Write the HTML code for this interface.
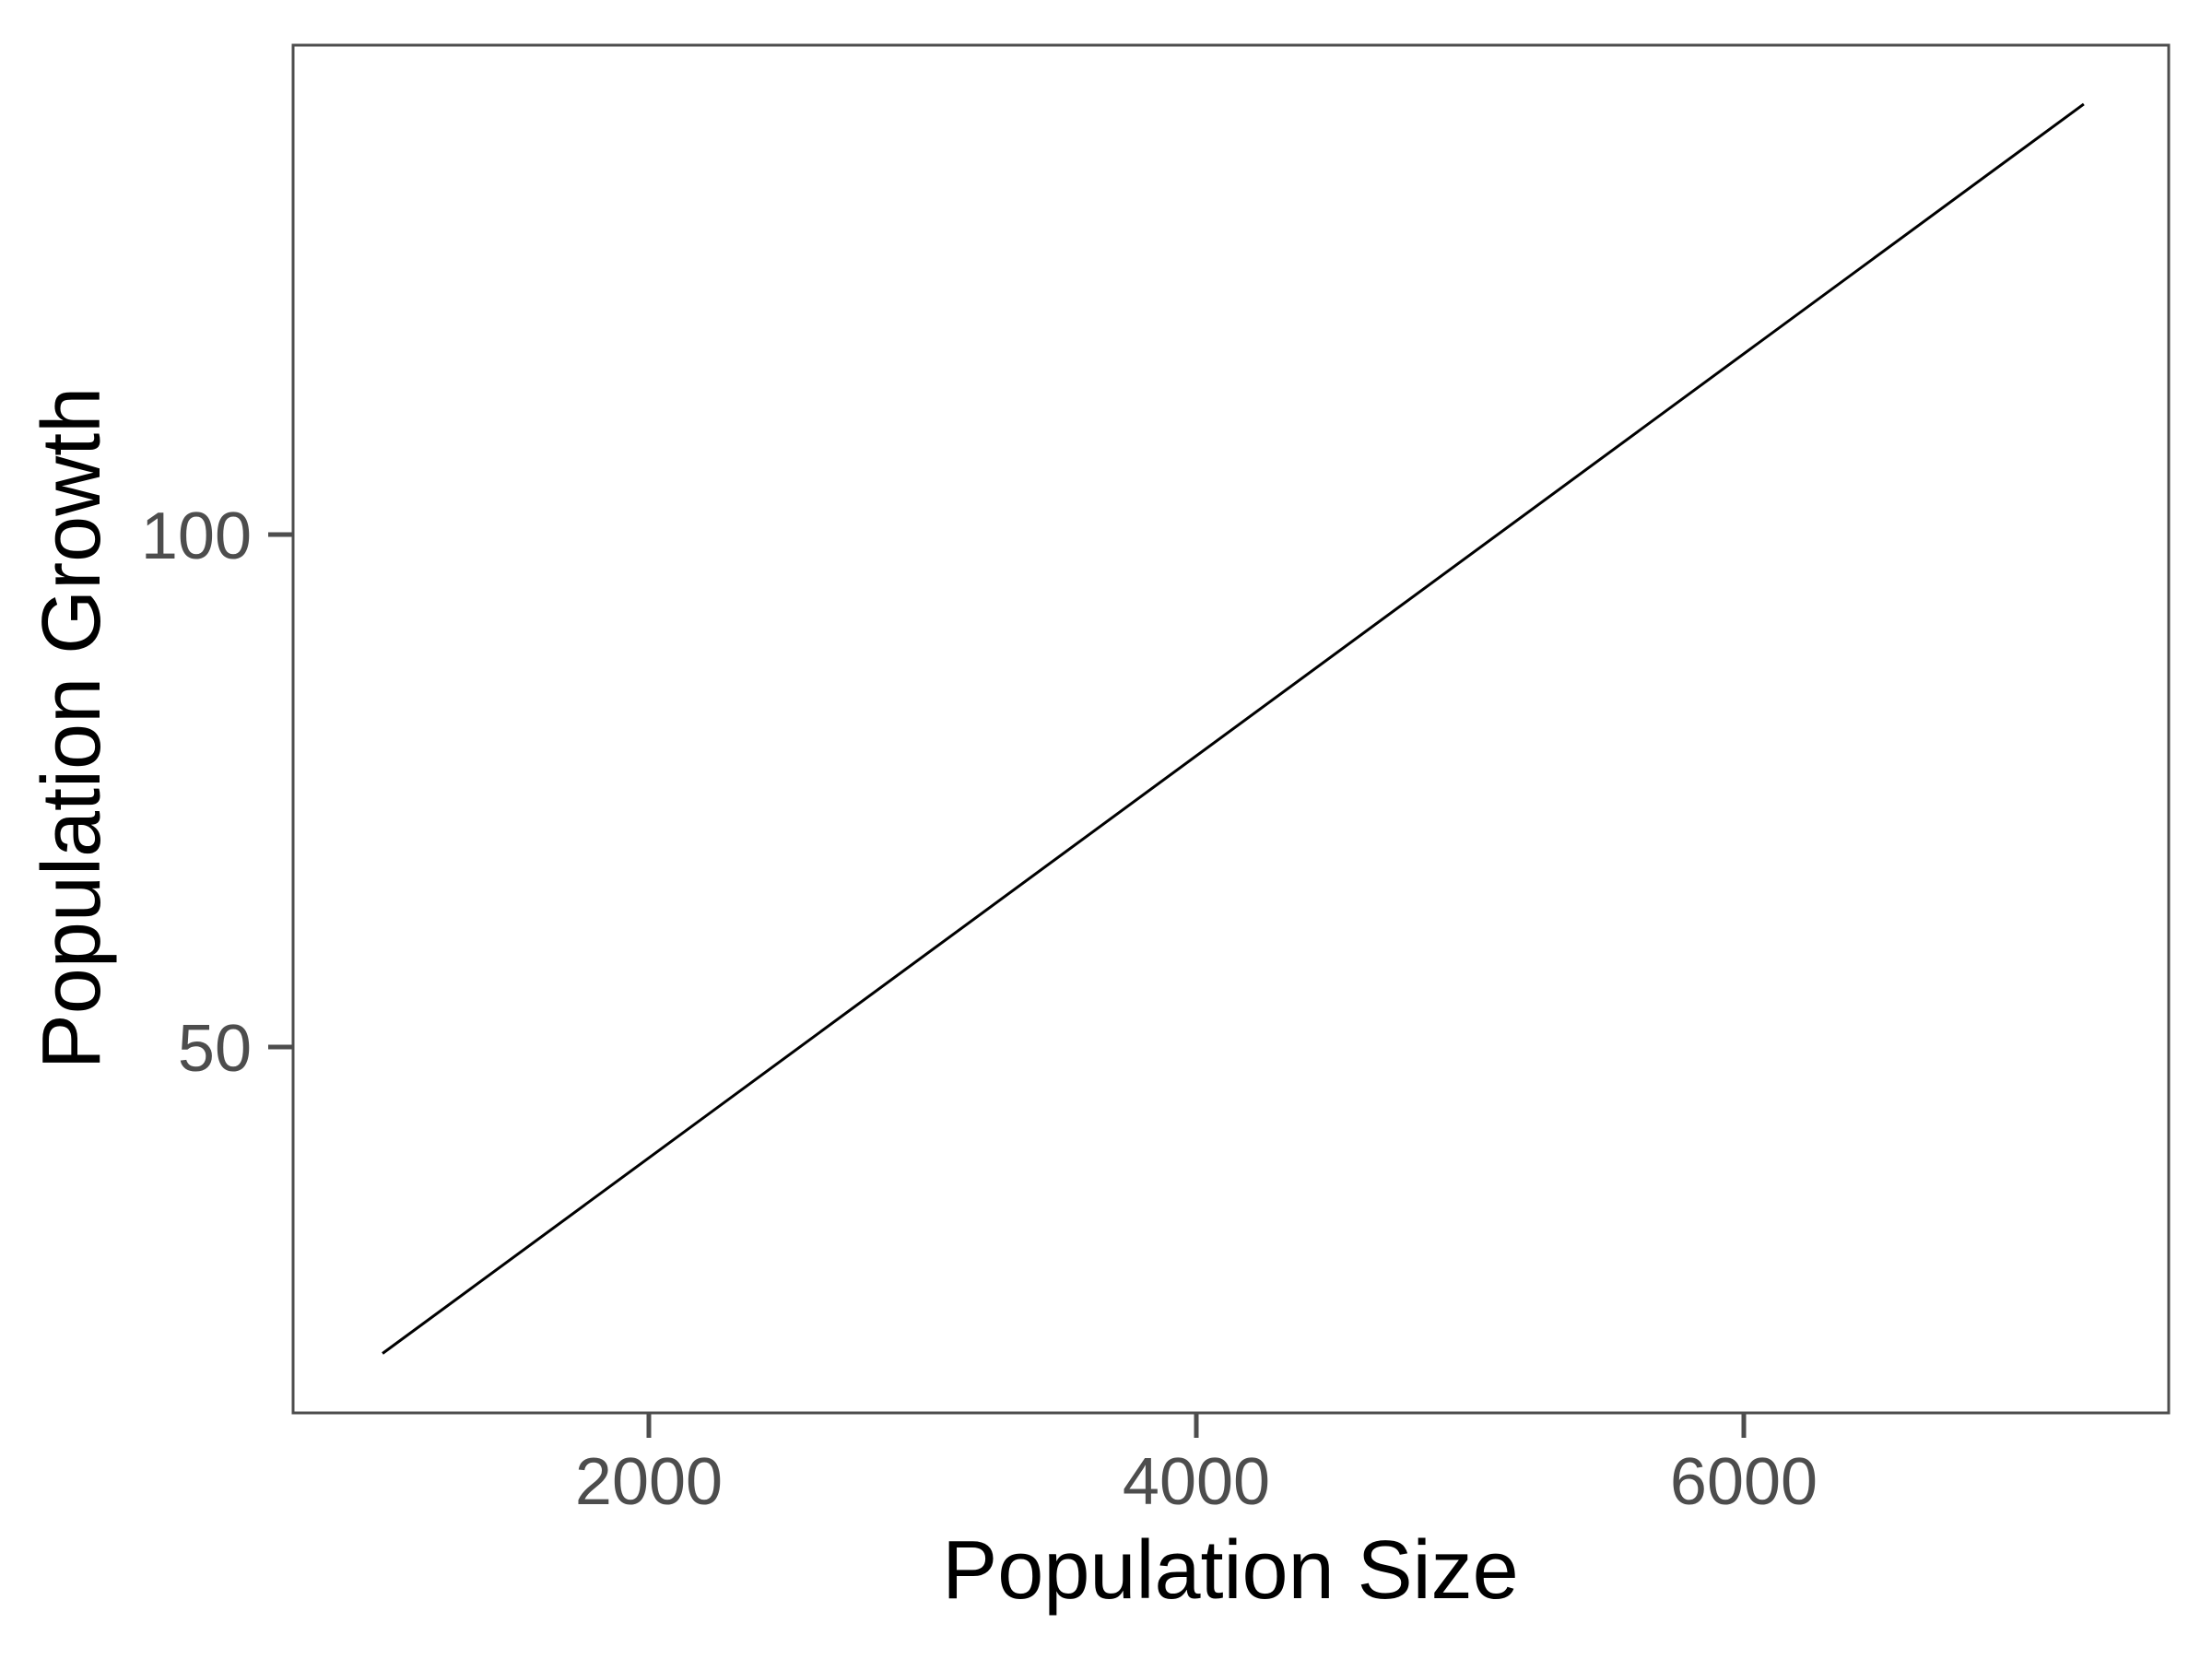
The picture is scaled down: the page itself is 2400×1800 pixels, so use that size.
<!DOCTYPE html>
<html><head><meta charset="utf-8"><style>
html,body{margin:0;padding:0;background:#fff;}
svg{display:block;font-family:"Liberation Sans",Arial,sans-serif;}
</style></head><body>
<svg id="chart" width="2400" height="1800" viewBox="0 0 2400 1800">
<rect x="0" y="0" width="2400" height="1800" fill="#fff"/>
<g id="marks"></g>
<rect x="318" y="49" width="2035" height="1484" fill="none" stroke="#4d4d4d" stroke-width="3"/>
<g id="axes"></g>
<text x="1335" y="1734" font-size="90" text-anchor="middle" fill="#000">Population Size</text>
<text transform="translate(108,790) rotate(-90)" font-size="90" text-anchor="middle" fill="#000">Population Growth</text>
</svg>
<script>
const xValues = [1027, 7242];
const yValues = [20.1, 142];
const xTicks = [2000, 4000, 6000];
const yTicks = [50, 100];

function xScale(v){ return 110 + v * 0.297; }
function yScale(v){ return 1136 - (v - 50) * 11.12; }

const NS = "http://www.w3.org/2000/svg";
const marks = document.getElementById('marks');
const axes = document.getElementById('axes');

const pl = document.createElementNS(NS, 'polyline');
pl.setAttribute('points', xValues.map((x,i)=>xScale(x)+','+yScale(yValues[i])).join(' '));
pl.setAttribute('fill','none');
pl.setAttribute('stroke','#000');
pl.setAttribute('stroke-width','3');


marks.appendChild(pl);

xTicks.forEach(t=>{
  const x = xScale(t);
  const l = document.createElementNS(NS,'line');
  l.setAttribute('x1',x); l.setAttribute('x2',x);
  l.setAttribute('y1',1533); l.setAttribute('y2',1560);
  l.setAttribute('stroke','#4d4d4d'); l.setAttribute('stroke-width','5');
  
  
  axes.appendChild(l);
  const tx = document.createElementNS(NS,'text');
  tx.setAttribute('x',x); tx.setAttribute('y',1632);
  tx.setAttribute('font-size','72'); tx.setAttribute('fill','#4d4d4d');
  tx.setAttribute('text-anchor','middle');
  tx.textContent = t;
  
  
  axes.appendChild(tx);
});
yTicks.forEach(t=>{
  const y = yScale(t);
  const l = document.createElementNS(NS,'line');
  l.setAttribute('x1',291); l.setAttribute('x2',318);
  l.setAttribute('y1',y); l.setAttribute('y2',y);
  l.setAttribute('stroke','#4d4d4d'); l.setAttribute('stroke-width','5');
  
  
  axes.appendChild(l);
  const tx = document.createElementNS(NS,'text');
  tx.setAttribute('x',273); tx.setAttribute('y',y+26);
  tx.setAttribute('font-size','72'); tx.setAttribute('fill','#4d4d4d');
  tx.setAttribute('text-anchor','end');
  tx.textContent = t;
  
  
  axes.appendChild(tx);
});
</script>
</body></html>
